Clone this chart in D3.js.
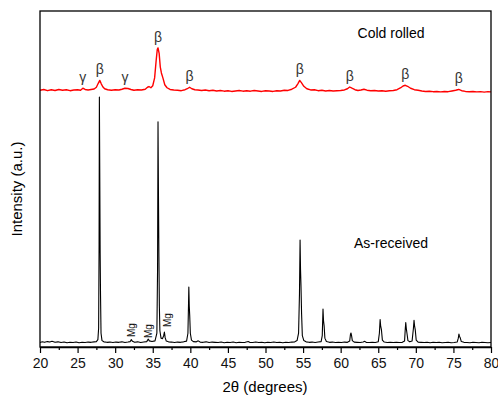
<!DOCTYPE html>
<html>
<head>
<meta charset="utf-8">
<script src="https://cdn.jsdelivr.net/npm/d3@7"></script>
<style>
  body { margin: 0; background: #fff; }
  svg { display: block; font-family: Arial, "Liberation Sans", sans-serif; }
</style>
</head>
<body>
<div id="chart"></div>
<script>
// 2theta ticks
const majorTicks = [20, 25, 30, 35, 40, 45, 50, 55, 60, 65, 70, 75, 80];
const minorTicks = [22.5, 27.5, 32.5, 37.5, 42.5, 47.5, 52.5, 57.5, 62.5, 67.5, 72.5, 77.5];

// as-received pattern [2theta, counts]
const asReceived = [
  [20.0,2],[20.3,5],[20.6,3],[21.0,6],[21.3,4],[21.6,7],[22.0,3],[22.4,5],[22.8,2],[23.2,4],
  [23.6,1],[24.0,3],[24.4,2],[24.8,4],[25.2,1],[25.6,3],[26.0,2],[26.4,4],[26.8,3],[27.2,5],
  [27.5,6],[27.7,14],[27.8,60],[27.86,400],[27.9,1000],[27.95,700],[28.0,380],[28.05,200],[28.12,40],[28.25,10],
  [28.5,5],[28.9,3],[29.3,4],[29.7,2],[30.1,4],[30.5,3],[30.9,5],[31.3,2],[31.7,4],[32.0,6],
  [32.15,14],[32.3,7],[32.6,3],[33.0,5],[33.4,2],[33.8,4],[34.2,6],[34.4,16],[34.55,9],[34.9,6],
  [35.3,9],[35.55,40],[35.64,300],[35.7,900],[35.76,600],[35.82,350],[35.88,150],[35.95,50],[36.1,20],[36.3,18],
  [36.45,30],[36.55,45],[36.65,22],[36.8,8],[37.1,5],[37.5,4],[37.9,2],[38.3,4],[38.7,3],[39.1,5],
  [39.5,8],[39.68,40],[39.76,160],[39.8,228],[39.86,150],[39.92,110],[40.0,40],[40.15,12],[40.4,6],[40.8,5],
  [41.05,9],[41.3,4],[41.7,3],[42.1,5],[42.5,2],[42.9,4],[43.3,3],[43.7,2],[44.1,4],[44.5,1],
  [44.9,3],[45.3,2],[45.7,4],[46.1,1],[46.5,3],[46.9,2],[47.3,3],[47.7,6],[47.9,3],[48.3,2],
  [48.7,4],[49.1,2],[49.5,3],[49.9,1],[50.3,3],[50.7,2],[51.1,4],[51.5,2],[51.9,3],[52.3,1],
  [52.7,3],[53.1,2],[53.5,4],[53.9,5],[54.2,10],[54.4,40],[54.52,200],[54.6,419],[54.66,300],[54.72,235],
  [54.8,120],[54.9,30],[55.1,10],[55.4,5],[55.8,3],[56.2,4],[56.6,2],[57.0,4],[57.4,6],[57.55,30],
  [57.65,138],[57.72,90],[57.8,70],[57.9,20],[58.1,6],[58.5,3],[58.9,4],[59.3,2],[59.7,3],[60.1,2],
  [60.5,4],[60.9,3],[61.2,8],[61.3,35],[61.37,41],[61.45,30],[61.55,10],[61.8,4],[62.2,3],[62.6,2],
  [63.0,4],[63.15,7],[63.4,3],[63.8,2],[64.2,3],[64.6,2],[65.0,5],[65.15,40],[65.25,96],[65.32,70],
  [65.42,55],[65.55,12],[65.8,4],[66.2,2],[66.6,3],[67.0,2],[67.4,3],[67.8,2],[68.2,3],[68.5,8],
  [68.6,60],[68.66,83],[68.73,60],[68.82,40],[68.95,10],[69.2,5],[69.5,8],[69.68,60],[69.76,93],[69.83,70],
  [69.92,55],[70.05,12],[70.3,4],[70.7,3],[71.1,2],[71.5,3],[71.9,1],[72.3,3],[72.7,2],[73.1,3],
  [73.5,1],[73.9,2],[74.3,3],[74.7,1],[75.1,2],[75.5,4],[75.65,20],[75.73,37],[75.8,28],[75.9,22],
  [76.05,6],[76.4,3],[76.8,2],[77.2,1],[77.6,3],[78.0,2],[78.4,1],[78.8,3],[79.2,2],[79.6,1],[80.0,2]
];

// cold rolled pattern [2theta, counts], drawn with a vertical offset
const coldRolledOffset = 1028;
const coldRolled = [
  [20.0,0],[20.5,3],[21.0,-2],[21.5,2],[22.0,-1],[22.5,3],[23.0,0],[23.5,2],[24.0,-2],[24.5,1],
  [25.0,2],[25.4,0],[25.7,8],[26.0,3],[26.4,1],[26.8,3],[27.2,5],[27.5,12],[27.75,28],[27.95,40],
  [28.15,26],[28.35,14],[28.6,6],[29.0,2],[29.5,0],[30.0,2],[30.5,1],[30.9,4],[31.3,8],[31.7,7],
  [32.1,3],[32.5,0],[33.0,2],[33.5,1],[34.0,4],[34.3,12],[34.5,15],[34.75,10],[35.0,18],[35.25,50],
  [35.45,120],[35.6,165],[35.7,172],[35.85,150],[36.0,95],[36.15,70],[36.35,50],[36.6,22],[36.9,10],[37.3,3],
  [37.8,1],[38.3,0],[38.8,-2],[39.3,2],[39.6,6],[39.9,12],[40.2,6],[40.6,2],[41.0,1],[41.5,-1],
  [42.0,1],[42.5,-2],[43.0,0],[43.5,-3],[44.0,-1],[44.5,-4],[45.0,-2],[45.5,-5],[46.0,-3],[46.5,-1],
  [47.0,-4],[47.5,-2],[48.0,-4],[48.5,-1],[49.0,-3],[49.5,-5],[50.0,-2],[50.5,-3],[51.0,-5],[51.5,-2],
  [52.0,-3],[52.5,0],[53.0,-1],[53.5,4],[54.0,12],[54.3,26],[54.55,40],[54.8,30],[55.1,16],[55.5,6],
  [56.0,1],[56.5,2],[57.0,-2],[57.5,0],[58.0,-3],[58.5,-1],[59.0,-3],[59.5,-2],[60.0,-1],[60.5,1],
  [60.9,6],[61.2,13],[61.5,8],[61.9,2],[62.3,-1],[62.7,1],[63.1,4],[63.5,0],[64.0,-2],[64.5,-1],
  [65.0,-3],[65.5,-2],[66.0,-4],[66.5,-2],[67.0,-1],[67.5,2],[68.0,10],[68.3,17],[68.6,20],[68.9,16],
  [69.3,8],[69.8,2],[70.3,0],[70.8,-3],[71.3,-5],[71.8,-4],[72.3,-6],[72.8,-5],[73.3,-7],[73.8,-5],
  [74.3,-6],[74.8,-3],[75.3,0],[75.7,3],[76.1,-2],[76.6,-5],[77.1,-6],[77.6,-5],[78.1,-7],[78.6,-6],
  [79.1,-8],[79.6,-6],[80.0,-7]
];

// phase marks on the cold rolled curve
const phasePos = [25.7, 27.95, 31.3, 35.7, 39.9, 54.55, 61.2, 68.6, 75.7];
const phaseSym = ["γ", "β", "γ", "β", "β", "β", "β", "β", "β"];

// Mg marks on the as-received curve
const mgPos = [32.2, 34.4, 36.9];
const mgLift = [13, 12, 23];

const width = 498, height = 396;
const margin = {top: 11, right: 7, bottom: 49, left: 40};
const plotW = width - margin.left - margin.right;
const plotH = height - margin.top - margin.bottom;

const svg = d3.select("#chart").append("svg")
  .attr("width", width)
  .attr("height", height);

const g = svg.append("g")
  .attr("transform", `translate(${margin.left},${margin.top})`);

const x = d3.scaleLinear().domain([20, 80]).range([0, plotW]);
const y = d3.scaleLinear().domain([-16, 1350]).range([plotH, 0]);

g.append("clipPath").attr("id", "clip")
  .append("rect").attr("width", plotW).attr("height", plotH);

const line = d3.line()
  .x(d => x(d[0]))
  .y(d => y(d[1]));

g.append("path")
  .datum(asReceived)
  .attr("clip-path", "url(#clip)")
  .attr("fill", "none")
  .attr("stroke", "#000")
  .attr("stroke-width", 1.1)
  .attr("stroke-linejoin", "round")
  .attr("d", line);

g.append("path")
  .datum(coldRolled.map(d => [d[0], d[1] + coldRolledOffset]))
  .attr("clip-path", "url(#clip)")
  .attr("fill", "none")
  .attr("stroke", "#ff0000")
  .attr("stroke-width", 1.4)
  .attr("stroke-linejoin", "round")
  .attr("d", line);

// phase labels, sitting just above the local peak
function localMax(data, pos) {
  return d3.max(data.filter(d => Math.abs(d[0] - pos) < 0.3), d => d[1]);
}
g.selectAll(".phase")
  .data(phasePos)
  .join("text")
  .attr("class", "phase")
  .attr("x", d => x(d))
  .attr("y", d => y(localMax(coldRolled, d) + coldRolledOffset) - 6)
  .attr("text-anchor", "middle")
  .style("font-size", "14px")
  .style("fill", "#333")
  .text((d, i) => phaseSym[i]);

g.selectAll(".mg")
  .data(mgPos)
  .join("text")
  .attr("class", "mg")
  .attr("transform", (d, i) => `translate(${x(d)},${y(0) - mgLift[i]}) rotate(-90)`)
  .attr("text-anchor", "middle")
  .attr("dominant-baseline", "central")
  .style("font-size", "10px")
  .style("fill", "#111")
  .text("Mg");

// frame
g.append("rect")
  .attr("width", plotW)
  .attr("height", plotH)
  .attr("fill", "none")
  .attr("stroke", "#000")
  .attr("stroke-width", 1.3);

// x axis
const xAxis = g.append("g")
  .attr("transform", `translate(0,${plotH})`)
  .call(d3.axisBottom(x).tickValues(majorTicks).tickSize(6).tickPadding(5).tickSizeOuter(0));
xAxis.select(".domain").attr("stroke-width", 1.3);
xAxis.selectAll(".tick line").attr("stroke-width", 1.2);
xAxis.selectAll("text")
  .style("font-size", "14px")
  .style("font-family", "Arial, 'Liberation Sans', sans-serif")
  .attr("fill", "#111");

g.append("g")
  .attr("transform", `translate(0,${plotH})`)
  .call(d3.axisBottom(x).tickValues(minorTicks).tickSize(3).tickFormat(""))
  .call(a => a.select(".domain").remove())
  .selectAll(".tick line").attr("stroke-width", 1.2);

// labels
svg.append("text")
  .attr("x", 265)
  .attr("y", 392)
  .attr("text-anchor", "middle")
  .style("font-size", "15px")
  .text("2θ (degrees)");

svg.append("text")
  .attr("transform", "translate(22,189) rotate(-90)")
  .attr("text-anchor", "middle")
  .style("font-size", "15px")
  .text("Intensity (a.u.)");

svg.append("text")
  .attr("x", 391)
  .attr("y", 38)
  .attr("text-anchor", "middle")
  .style("font-size", "14px")
  .text("Cold rolled");

svg.append("text")
  .attr("x", 391)
  .attr("y", 248)
  .attr("text-anchor", "middle")
  .style("font-size", "14px")
  .text("As-received");
</script>
</body>
</html>
